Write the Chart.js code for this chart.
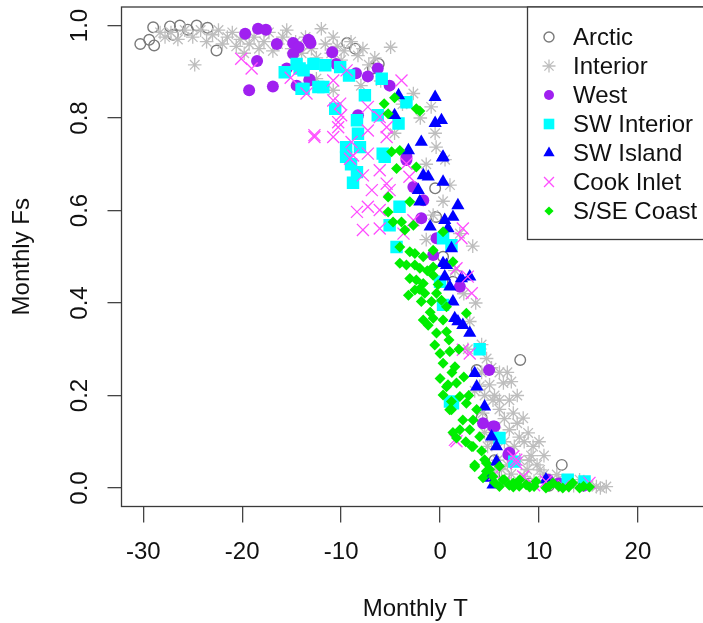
<!DOCTYPE html>
<html>
<head>
<meta charset="utf-8">
<title>Monthly Fs vs Monthly T</title>
<script src="https://cdn.jsdelivr.net/npm/chart.js@4.4.1/dist/chart.umd.min.js"></script>
<style>
  html, body { margin: 0; padding: 0; background: #fff; overflow: hidden; }
  #wrap { width: 703px; height: 623px; overflow: hidden; }
  /* the plot box runs a little past the right edge, as in the original figure */
  #chart { display: block; margin-top: -5px; }
</style>
</head>
<body>
<div id="wrap"><canvas id="chart" width="721" height="628"></canvas></div>
<script>
// data: [monthly T, monthly Fs]
const regions = ['Arctic', 'Interior', 'West', 'SW Interior', 'SW Island', 'Cook Inlet', 'S/SE Coast'];
const xTicks = [-30, -20, -10, 0, 10, 20];
const yTicks = [0, 0.2, 0.4, 0.6, 0.8, 1.0];

const arctic = [
  [-30.3, 0.960], [-29.4, 0.969], [-28.9, 0.957], [-29.0, 0.996], [-27.3, 0.998], [-27.0, 0.980],
  [-26.3, 1.0], [-25.5, 0.991], [-24.6, 1.0], [-23.5, 0.995], [-22.6, 0.946], [-9.4, 0.962],
  [-8.6, 0.950], [-6.8, 0.907], [-6.2, 0.917], [-0.5, 0.648], [-0.4, 0.586], [0.3, 0.500],
  [1.3, 0.446], [3.7, 0.255], [8.1, 0.277], [4.2, 0.152], [12.3, 0.050], [6.5, 0.03],
  [9.0, 0.01], [11.0, 0.005], [5.5, 0.06]
];

const interior = [
  [-28.3, 0.985], [-27.8, 0.975], [-27.2, 0.985], [-26.5, 0.97], [-25.8, 0.99], [-25.0, 0.975],
  [-24.8, 0.915], [-24.2, 0.99], [-23.6, 0.965], [-23.0, 0.98], [-22.4, 0.99], [-22.0, 0.96],
  [-21.5, 0.975], [-21.0, 0.985], [-20.6, 0.955], [-20.2, 0.97], [-19.8, 0.94], [-19.3, 0.96],
  [-18.8, 0.975], [-18.3, 0.95], [-17.8, 0.965], [-17.3, 0.985], [-16.9, 0.945], [-16.4, 0.96],
  [-15.9, 0.975], [-15.5, 0.99], [-15.0, 0.95], [-14.6, 0.965], [-14.0, 0.94], [-13.6, 0.975],
  [-13.0, 0.95], [-12.5, 0.93], [-12.0, 0.993], [-11.6, 0.96], [-11.0, 0.94], [-10.8, 0.975],
  [-10.4, 0.955], [-10.0, 0.925], [-9.7, 0.945], [-9.0, 0.965], [-8.3, 0.935], [-7.8, 0.95],
  [-7.2, 0.915], [-6.6, 0.93], [-5.0, 0.953], [-10.8, 0.86], [-12.5, 0.885], [-8.0, 0.87],
  [-6.0, 0.88], [-4.6, 0.767], [-3.8, 0.83], [-2.7, 0.853], [-2.0, 0.80], [-0.9, 0.824],
  [-0.5, 0.767], [-0.4, 0.737], [-1.4, 0.70], [0.5, 0.71], [-0.7, 0.59], [-1.4, 0.537],
  [0.3, 0.62], [1.0, 0.655], [2.0, 0.55], [3.3, 0.523], [1.5, 0.47], [2.4, 0.42],
  [3.0, 0.36], [3.6, 0.40], [4.2, 0.31], [4.7, 0.28], [2.8, 0.30], [5.0, 0.223],
  [5.35, 0.19], [6.4, 0.227], [4.3, 0.162], [7.4, 0.162], [7.0, 0.126], [8.4, 0.151],
  [8.9, 0.119], [9.4, 0.09], [8.05, 0.061], [10.1, 0.039], [11.8, 0.029], [14.1, 0.018],
  [16.8, 0.003], [15.8, 0.003], [6.0, 0.17], [6.5, 0.10], [5.5, 0.13], [7.8, 0.2],
  [6.8, 0.25], [7.5, 0.09], [9.0, 0.06], [10.5, 0.07], [5.8, 0.06], [4.8, 0.09],
  [6.2, 0.04], [7.2, 0.03], [8.5, 0.025], [9.5, 0.015], [11.0, 0.012], [12.5, 0.008],
  [13.5, 0.005], [15.0, 0.006], [16.2, 0.0], [12.0, 0.02], [10.0, 0.10], [8.0, 0.11],
  [5.2, 0.26], [6.0, 0.25], [7.2, 0.23], [4.0, 0.22], [4.5, 0.20], [5.5, 0.20],
  [6.0, 0.19], [7.0, 0.19], [6.5, 0.15], [7.8, 0.14], [8.5, 0.10], [9.2, 0.07],
  [9.8, 0.05], [10.5, 0.03], [5.2, 0.10], [4.5, 0.12], [6.8, 0.05], [5.5, 0.04],
  [8.8, 0.04], [3.5, 0.21], [4.2, 0.25]
];

const west = [
  [-19.7, 0.982], [-18.4, 0.993], [-17.6, 0.991], [-16.5, 0.960], [-14.85, 0.962], [-13.3, 0.969],
  [-13.1, 0.962], [-14.3, 0.953], [-14.85, 0.939], [-18.5, 0.923], [-19.3, 0.860], [-16.9, 0.868],
  [-14.5, 0.870], [-13.2, 0.883], [-15.5, 0.907], [-13.2, 0.967], [-10.9, 0.942], [-10.5, 0.917],
  [-8.5, 0.897], [-7.3, 0.890], [-6.3, 0.907], [-5.1, 0.870], [-13.2, 0.881], [-8.3, 0.806],
  [-3.4, 0.716], [-3.4, 0.709], [-2.7, 0.651], [-1.7, 0.622], [-1.9, 0.583], [-0.7, 0.504],
  [-0.36, 0.540], [2.0, 0.435], [4.95, 0.255], [4.34, 0.140], [5.5, 0.133], [6.9, 0.072],
  [5.35, 0.133], [7.0, 0.076], [10.9, 0.018], [14.5, 0.005], [12.0, 0.01]
];

const swInterior = [
  [-14.5, 0.917], [-15.7, 0.899], [-12.8, 0.917], [-14.0, 0.863], [-14.2, 0.907], [-12.3, 0.867],
  [-11.6, 0.914], [-13.8, 0.903], [-13.8, 0.863], [-11.8, 0.867], [-10.1, 0.91], [-9.2, 0.892],
  [-5.9, 0.885], [-7.6, 0.849], [-10.6, 0.82], [-8.4, 0.795], [-3.4, 0.834], [-6.3, 0.806],
  [-4.2, 0.788], [-8.3, 0.766], [-9.5, 0.737], [-8.1, 0.737], [-5.8, 0.723], [-9.5, 0.716],
  [-8.4, 0.683], [-5.6, 0.716], [-4.1, 0.608], [-5.1, 0.568], [-4.4, 0.521], [0.3, 0.54],
  [1.15, 0.525], [0.0, 0.446], [0.3, 0.396], [4.0, 0.30], [1.3, 0.183], [6.0, 0.108],
  [7.5, 0.057], [12.9, 0.018], [14.6, 0.014], [1.0, 0.187], [-9.0, 0.70], [-8.8, 0.66]
];

const swIsland = [
  [-0.5, 0.845], [-4.2, 0.849], [-0.5, 0.789], [0.14, 0.795], [-1.9, 0.748], [-4.6, 0.806],
  [-3.2, 0.730], [0.3, 0.716], [0.24, 0.714], [-1.7, 0.676], [-1.2, 0.673], [0.3, 0.662],
  [-2.2, 0.644], [-2.05, 0.619], [1.8, 0.611], [0.47, 0.579], [1.3, 0.586], [-1.0, 0.565],
  [0.8, 0.561], [1.15, 0.518], [0.3, 0.486], [0.65, 0.482], [0.47, 0.457], [2.16, 0.453],
  [3.0, 0.457], [0.98, 0.435], [1.3, 0.403], [1.48, 0.367], [2.3, 0.352], [1.8, 0.36],
  [3.0, 0.335], [3.5, 0.248], [3.7, 0.219], [4.5, 0.176], [5.2, 0.111], [5.7, 0.09],
  [5.0, 0.022], [5.7, 0.057], [5.35, 0.007], [10.7, 0.018]
];

const cookInlet = [
  [-20.1, 0.928], [-19.05, 0.907], [-15.1, 0.887], [-13.5, 0.853], [-12.7, 0.759], [-9.45, 0.903],
  [-10.8, 0.881], [-3.9, 0.881], [-10.8, 0.838], [-10.1, 0.831], [-7.3, 0.824], [-6.1, 0.802],
  [-10.3, 0.791], [-10.3, 0.780], [-10.0, 0.806], [-12.7, 0.763], [-10.8, 0.759], [-8.95, 0.748],
  [-7.3, 0.773], [-5.4, 0.780], [-8.8, 0.719], [-7.3, 0.723], [-5.4, 0.759], [-9.1, 0.712],
  [-7.8, 0.676], [-6.1, 0.687], [-5.4, 0.658], [-6.9, 0.644], [-5.1, 0.644], [-8.4, 0.597],
  [-7.3, 0.608], [-6.1, 0.601], [-7.8, 0.558], [-6.1, 0.561], [-3.7, 0.550], [-2.7, 0.579],
  [2.3, 0.561], [2.16, 0.540], [1.66, 0.475], [2.8, 0.457], [3.2, 0.421], [-3.4, 0.701],
  [-3.1, 0.673], [1.5, 0.104], [2.3, 0.299], [3.0, 0.291], [7.7, 0.061], [1.66, 0.101],
  [7.7, 0.054], [8.4, 0.025], [10.7, 0.014], [15.1, 0.011], [7.4, 0.068], [5.5, 0.03],
  [6.5, 0.01], [9.5, 0.006], [12.5, 0.004]
];

const coast = [
  [-5.65, 0.831], [-4.6, 0.844], [-5.25, 0.809], [-2.4, 0.820], [-2.05, 0.815], [-4.9, 0.727],
  [-4.07, 0.730], [-4.4, 0.691], [-5.25, 0.629], [-3.06, 0.619], [-2.4, 0.694], [-5.25, 0.597],
  [-4.75, 0.575], [-3.9, 0.575], [-3.56, 0.558], [-2.7, 0.568], [-4.07, 0.521], [-3.06, 0.511],
  [-2.55, 0.507], [-1.7, 0.500], [-4.07, 0.486], [-3.4, 0.482], [-2.55, 0.482], [-2.05, 0.475],
  [-0.7, 0.478], [-0.7, 0.514], [1.3, 0.489], [-3.06, 0.453], [-2.4, 0.450], [-1.7, 0.442],
  [-2.55, 0.428], [-1.55, 0.421], [-0.7, 0.460], [-0.36, 0.421], [-3.2, 0.417], [-1.9, 0.403],
  [-0.87, 0.403], [0.14, 0.406], [0.65, 0.392], [-1.7, 0.363], [-0.7, 0.367], [2.66, 0.378],
  [0.3, 0.363], [0.3, 0.554], [-1.2, 0.352], [-0.36, 0.335], [0.65, 0.338], [-0.54, 0.309],
  [0.0, 0.291], [0.98, 0.295], [0.3, 0.270], [1.5, 0.262], [0.0, 0.237], [0.8, 0.223],
  [1.66, 0.227], [0.3, 0.201], [1.15, 0.187], [2.0, 0.198], [2.66, 0.183], [1.15, 0.169],
  [2.3, 0.147], [3.33, 0.147], [3.0, 0.126], [4.0, 0.111], [1.66, 0.108], [3.33, 0.090],
  [3.5, 0.050], [4.5, 0.061], [4.68, 0.036], [5.35, 0.025], [6.0, 0.047], [6.36, 0.018],
  [7.4, 0.011], [8.7, 0.007], [0.98, 0.169], [2.0, 0.126], [3.2, 0.09], [4.68, 0.054],
  [4.34, 0.022], [6.0, 0.003], [7.4, 0.002], [9.06, 0.002], [10.7, 0.0], [12.4, 0.0],
  [14.1, 0.0], [15.1, 0.002], [6.5, 0.018], [8.05, 0.018], [9.7, 0.014], [11.4, 0.011],
  [13.4, 0.011], [0.65, 0.219], [-1.0, 0.38], [-0.2, 0.44], [-1.3, 0.47], [-2.1, 0.43],
  [0.9, 0.32], [1.9, 0.30], [1.2, 0.25], [2.4, 0.24], [2.9, 0.2], [3.7, 0.17],
  [2.6, 0.1], [4.2, 0.08], [5.0, 0.04], [5.5, 0.012], [7.0, 0.006], [8.0, 0.004],
  [9.5, 0.003], [11.0, 0.004], [12.0, 0.003], [13.0, 0.002], [14.5, 0.004], [1.3, 0.12],
  [3.5, 0.046]
];

const FONT = "'Liberation Sans', Arial, Helvetica, sans-serif";

function pts(arr) {
  return arr.map(p => ({ x: p[0], y: p[1] }));
}

// fixed margins like R's par(mar), no extra padding for end labels
function fixBox(s, w, h) {
  if (w !== null) s.width = w;
  if (h !== null) s.height = h;
  s.paddingTop = 0;
  s.paddingBottom = 0;
  s.paddingLeft = 0;
  s.paddingRight = 0;
}

// plot frame, like R's box()
const frame = {
  id: 'frame',
  afterDatasetsDraw(chart) {
    const a = chart.chartArea;
    const ctx = chart.ctx;
    ctx.save();
    ctx.strokeStyle = '#3a3a3a';
    ctx.lineWidth = 1.3;
    ctx.strokeRect(a.left, a.top, a.right - a.left, a.bottom - a.top);
    ctx.restore();
  }
};

// legend box in the top right corner
const legendBox = {
  id: 'legendBox',
  afterDraw(chart) {
    const a = chart.chartArea;
    const ctx = chart.ctx;
    const left = 527.5, top = a.top, bottom = a.top + 232.5;
    ctx.save();
    ctx.fillStyle = '#fff';
    ctx.fillRect(left, top, a.right - left, bottom - top);
    ctx.strokeStyle = '#3a3a3a';
    ctx.lineWidth = 1.3;
    ctx.strokeRect(left, top, a.right - left, bottom - top);
    chart.data.datasets.forEach((ds, i) => {
      const y = a.top + 30 + i * 29;
      ctx.fillStyle = ds.backgroundColor;
      ctx.strokeStyle = ds.borderColor;
      ctx.lineWidth = ds.borderWidth;
      Chart.helpers.drawPoint(ctx, {
        pointStyle: ds.pointStyle,
        radius: ds.legendRadius,
        borderWidth: ds.borderWidth,
        rotation: 0
      }, 549, y);
      ctx.fillStyle = '#111';
      ctx.font = '24px ' + FONT;
      ctx.textBaseline = 'middle';
      ctx.textAlign = 'left';
      ctx.fillText(ds.label, 573, y + 1);
    });
    ctx.restore();
  }
};

const datasets = [
  { label: regions[0], data: pts(arctic), pointStyle: 'circle', pointRadius: 5.3, legendRadius: 5,
    backgroundColor: 'rgba(0,0,0,0)', borderColor: '#7a7a7a', borderWidth: 1.4, order: 6 },
  { label: regions[1], data: pts(interior), pointStyle: 'star', pointRadius: 6.8, legendRadius: 6.5,
    backgroundColor: 'rgba(0,0,0,0)', borderColor: '#bebebe', borderWidth: 1.3, order: 5 },
  { label: regions[2], data: pts(west), pointStyle: 'circle', pointRadius: 6, legendRadius: 5,
    backgroundColor: '#a020f0', borderColor: '#a020f0', borderWidth: 0, order: 4 },
  { label: regions[3], data: pts(swInterior), pointStyle: 'rect', pointRadius: 8.8, legendRadius: 7.5,
    backgroundColor: '#00ffff', borderColor: '#00ffff', borderWidth: 0, order: 3 },
  { label: regions[4], data: pts(swIsland), pointStyle: 'triangle', pointRadius: 7.6, legendRadius: 6.5,
    backgroundColor: '#0000ff', borderColor: '#0000ff', borderWidth: 0, order: 2 },
  { label: regions[5], data: pts(cookInlet), pointStyle: 'crossRot', pointRadius: 8.5, legendRadius: 7,
    backgroundColor: 'rgba(0,0,0,0)', borderColor: '#ff4dff', borderWidth: 1.3, order: 1 },
  { label: regions[6], data: pts(coast), pointStyle: 'rectRot', pointRadius: 5.5, legendRadius: 4.6,
    backgroundColor: '#00ee00', borderColor: '#00ee00', borderWidth: 0, order: 0 }
];

new Chart(document.getElementById('chart'), {
  type: 'scatter',
  data: { datasets: datasets },
  options: {
    responsive: false,
    animation: false,
    devicePixelRatio: 1,
    // larger than the biggest marker, so Chart.js adds no overflow margin of its own
    layout: { padding: { top: 12, right: 11.8, left: 0, bottom: 0 } },
    plugins: {
      legend: { display: false },
      tooltip: { enabled: false }
    },
    scales: {
      x: {
        type: 'linear',
        min: -32.2,
        max: 27.2,
        afterBuildTicks: s => { s.ticks = xTicks.map(v => ({ value: v })); },
        afterFit: s => fixBox(s, null, 116.5),
        border: { display: false },
        grid: { drawOnChartArea: false, drawTicks: true, tickLength: 16, tickColor: '#444', lineWidth: 1.3 },
        ticks: {
          color: '#111', font: { family: FONT, size: 24 }, padding: 15,
          maxRotation: 0, autoSkip: false, callback: v => String(v)
        },
        title: {
          display: true, text: 'Monthly T', color: '#111',
          font: { family: FONT, size: 24, lineHeight: 1.13 }, padding: { top: 0, bottom: 0 }
        }
      },
      y: {
        type: 'linear',
        min: -0.04,
        max: 1.04,
        afterBuildTicks: s => { s.ticks = yTicks.map(v => ({ value: v })); },
        afterFit: s => fixBox(s, 121.5, null),
        border: { display: false },
        grid: { drawOnChartArea: false, drawTicks: true, tickLength: 14, tickColor: '#444', lineWidth: 1.3 },
        ticks: {
          color: '#111', font: { family: FONT, size: 24 }, padding: 10.3,
          minRotation: 90, maxRotation: 90, crossAlign: 'center',
          autoSkip: false, callback: v => v.toFixed(1)
        },
        title: {
          display: true, text: 'Monthly Fs', color: '#111',
          font: { family: FONT, size: 24, lineHeight: 1.13 }, padding: { top: 8.6, bottom: 0 }
        }
      }
    }
  },
  plugins: [frame, legendBox]
});
</script>
</body>
</html>
